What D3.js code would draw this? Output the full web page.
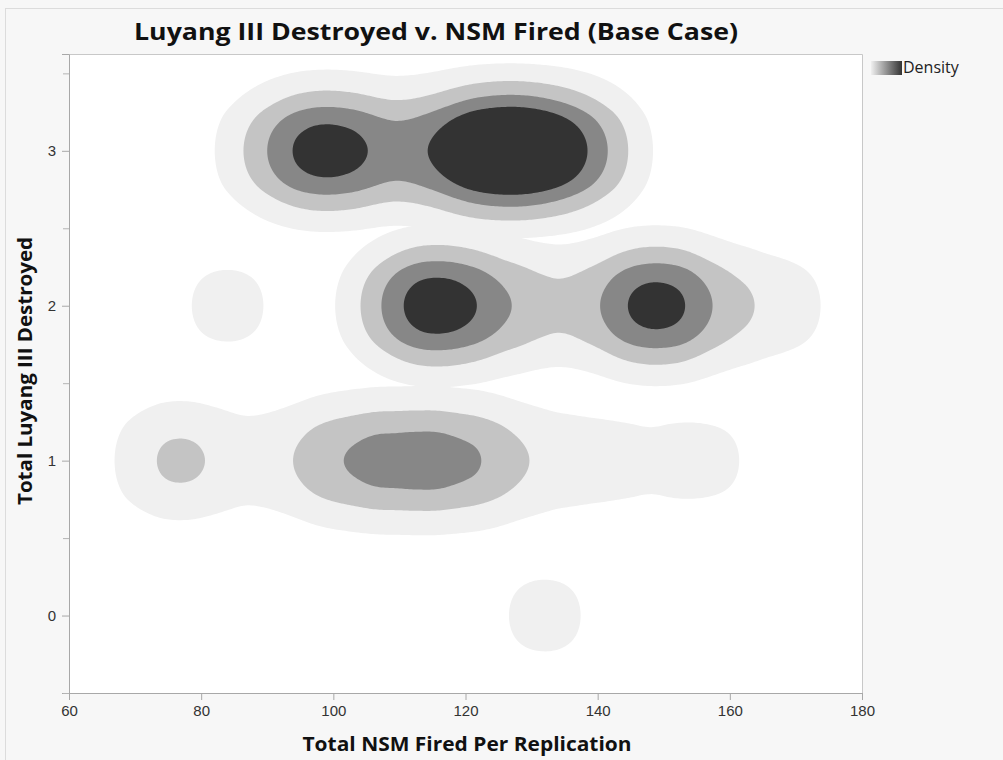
<!DOCTYPE html>
<html>
<head>
<meta charset="utf-8">
<script src="https://cdn.jsdelivr.net/npm/d3@7"></script>
<style>
  body { margin: 0; background: #f7f7f7; }
  svg { display: block; font-family: 'Open Sans', 'Noto Sans', sans-serif; }
</style>
</head>
<body>
<div id="chart"></div>
<script>
// replications: NSM fired, Luyang III killed, how many runs
const nsmFired = [
  89, 95, 98, 100, 102, 108, 116, 119, 122, 124, 126, 128, 131, 134, 137, 140,
  84, 108, 113, 115, 117, 119, 127, 133, 146, 148, 150, 158, 168,
  74, 79, 94, 102, 106, 111, 117, 120, 127, 140, 156,
  132,
]
const luyangDestroyed = [
  3, 3, 3, 3, 3, 3, 3, 3, 3, 3, 3, 3, 3, 3, 3, 3,
  2, 2, 2, 2, 2, 2, 2, 2, 2, 2, 2, 2, 2,
  1, 1, 1, 1, 1, 1, 1, 1, 1, 1, 1,
  0,
]
const runs = [
  1, 1, 1, 1, 1, 1, 1, 1, 1, 1, 1, 1, 1, 1, 1, 1,
  1, 1, 1, 1, 1, 1, 1, 1, 1, 2, 1, 1, 1,
  1, 1, 1, 1, 1, 1, 1, 1, 1, 1, 1,
  1,
]
const xTicks = [60, 80, 100, 120, 140, 160, 180]
const yTicks = [0, 1, 2, 3]
const yMinorTicks = [-0.5, 0.5, 1.5, 2.5, 3.5]
// density levels, as multiples of a single run's peak
const levels = [0.637, 1.47, 2.36, 3.3]
const levelColors = ['#f0f0f0', '#c4c4c4', '#878787', '#333333']

const W = 1003
const H = 760
const plotLeft = 69
const plotTop = 54
const plotW = 862 - 69
const plotH = 693 - 54
const bw = 40

const svg = d3
  .select('#chart')
  .append('svg')
  .attr('width', W)
  .attr('height', H)

// outer frame
svg.append('rect')
  .attr('x', 5.5).attr('y', 8.5)
  .attr('width', W).attr('height', H)
  .attr('fill', '#f7f7f7')
  .attr('stroke', '#dcdcdc')

svg.append('text')
  .attr('x', 436)
  .attr('y', 40)
  .attr('text-anchor', 'middle')
  .attr('font-size', '23px')
  .attr('font-weight', 'bold')
  .attr('fill', '#111')
  .attr('textLength', 604)
  .attr('lengthAdjust', 'spacingAndGlyphs')
  .text('Luyang III Destroyed v. NSM Fired (Base Case)')

const x = d3.scaleLinear().domain([60, 180]).range([0, plotW])
const y = d3.scaleLinear().domain([-0.5, 3.625]).range([plotH, 0])

const g = svg.append('g').attr('transform', `translate(${plotLeft},${plotTop})`)

g.append('rect')
  .attr('width', plotW)
  .attr('height', plotH)
  .attr('fill', '#fff')

g.append('clipPath').attr('id', 'clip')
  .append('rect').attr('width', plotW).attr('height', plotH)

const rows = nsmFired.map((v, i) => ({ nsm: v, kills: luyangDestroyed[i], n: runs[i] }))

// one density per kill count, then stack all bands lightest first
const unit = 1 / (2 * Math.PI * bw * bw)
const density = d3
  .contourDensity()
  .x((d) => x(d.nsm))
  .y((d) => y(d.kills))
  .weight((d) => d.n)
  .size([plotW, plotH])
  .cellSize(2)
  .bandwidth(bw)
  .thresholds(levels.map((k) => k * unit))

let bands = []
d3.groups(rows, (d) => d.kills).forEach(([k, pts]) => {
  density(pts).forEach((c, i) => bands.push({ level: i, geo: c }))
})
bands.sort((a, b) => a.level - b.level)

g.append('g')
  .attr('clip-path', 'url(#clip)')
  .selectAll('path')
  .data(bands)
  .enter()
  .append('path')
  .attr('d', (d) => d3.geoPath()(d.geo))
  .attr('fill', (d) => levelColors[d.level])

// frame top/right
g.append('path')
  .attr('d', `M0.5,0.5H${plotW + 0.5}V${plotH}`)
  .attr('fill', 'none')
  .attr('stroke', '#c8c8c8')

const xAxis = g.append('g')
  .attr('transform', `translate(0,${plotH})`)
  .call(d3.axisBottom(x).tickValues(xTicks).tickSize(7).tickPadding(5))
const yAxis = g.append('g')
  .call(d3.axisLeft(y).tickValues(yTicks).tickSize(7).tickPadding(6).tickFormat(d3.format('d')))
g.append('g')
  .call(d3.axisLeft(y).tickValues(yMinorTicks).tickSize(6).tickFormat(''))
  .call((a) => a.select('.domain').remove())
  .selectAll('line').attr('stroke', '#b4b4b4')

;[xAxis, yAxis].forEach((a) => {
  a.select('.domain').attr('stroke', '#a8a8a8')
  a.selectAll('.tick line').attr('stroke', '#a8a8a8')
  a.selectAll('.tick text')
    .attr('font-size', '15px')
    .attr('fill', '#333')
})

svg.append('text')
  .attr('x', 467)
  .attr('y', 751)
  .attr('text-anchor', 'middle')
  .attr('font-size', '19px')
  .attr('font-weight', 'bold')
  .attr('fill', '#111')
  .attr('textLength', 329)
  .attr('lengthAdjust', 'spacingAndGlyphs')
  .text('Total NSM Fired Per Replication')

svg.append('text')
  .attr('transform', 'translate(32,371) rotate(-90)')
  .attr('text-anchor', 'middle')
  .attr('font-size', '19px')
  .attr('font-weight', 'bold')
  .attr('fill', '#111')
  .attr('textLength', 268)
  .attr('lengthAdjust', 'spacingAndGlyphs')
  .text('Total Luyang III Destroyed')

// legend
const grad = svg.append('defs').append('linearGradient').attr('id', 'dens')
grad.append('stop').attr('offset', '0%').attr('stop-color', '#f0f0f0')
grad.append('stop').attr('offset', '100%').attr('stop-color', '#333333')
svg.append('rect')
  .attr('x', 871).attr('y', 61)
  .attr('width', 31).attr('height', 14)
  .attr('fill', 'url(#dens)')
svg.append('text')
  .attr('x', 903).attr('y', 73)
  .attr('font-size', '16px')
  .attr('fill', '#222')
  .text('Density')
</script>
</body>
</html>
